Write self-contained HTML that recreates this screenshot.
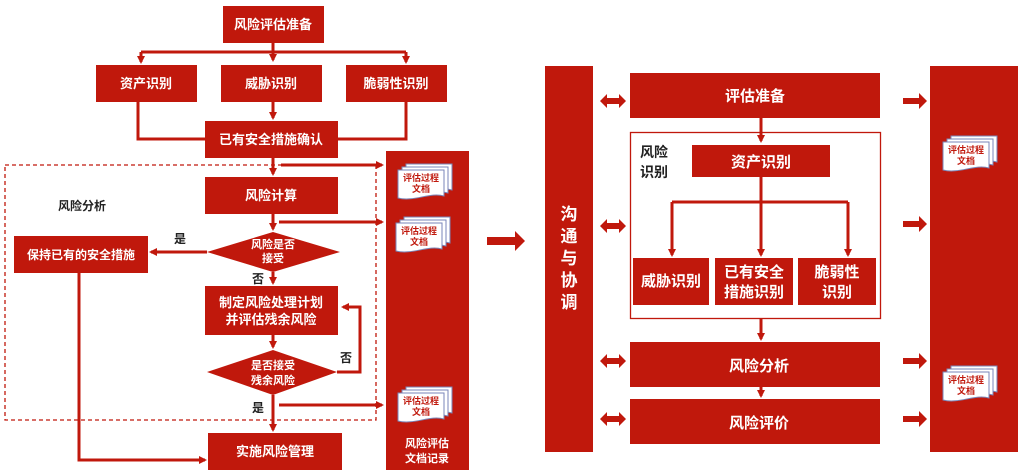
<!DOCTYPE html>
<html><head><meta charset="utf-8"><style>
html,body{margin:0;padding:0;background:#fff;}
svg{display:block;font-family:"Liberation Sans","Noto Sans CJK SC",sans-serif;}
.w{fill:#fff;font-weight:bold;text-anchor:middle;}
.k{fill:#222;font-weight:bold;text-anchor:middle;}
.d{fill:#c0180c;font-weight:bold;text-anchor:middle;font-size:9px;}
</style></head><body>
<svg width="1024" height="473" viewBox="0 0 1024 473">
<defs>
<marker id="a" markerWidth="8" markerHeight="8" refX="6" refY="4" orient="auto" markerUnits="userSpaceOnUse"><path d="M0,0L8,4L0,8z" fill="#c0180c"/></marker>
<g id="doc">
<path d="M8,0h46v26c-14,-4-30,6-46,2z" fill="#fff" stroke="#7a86b8" stroke-width="1"/>
<path d="M4,3h46v26c-14,-4-30,6-46,2z" fill="#fff" stroke="#7a86b8" stroke-width="1"/>
<path d="M0,6h46v26c-14,-4-30,6-46,2z" fill="#fff" stroke="#7a86b8" stroke-width="1"/>
<text x="23" y="17" class="d">评估过程</text><text x="23" y="28" class="d">文档</text>
</g>
</defs>
<g fill="#c0180c">
<!-- left diagram boxes -->
<rect x="223" y="6" width="101" height="37"/>
<rect x="96" y="65" width="101" height="37"/>
<rect x="221" y="65" width="101" height="37"/>
<rect x="346" y="65" width="101" height="37"/>
<rect x="205" y="121" width="133" height="37"/>
<rect x="205" y="177" width="133" height="37"/>
<polygon points="207,252 273,232 340,252 273,272"/>
<rect x="14" y="236" width="134" height="37"/>
<rect x="205" y="286" width="133" height="49"/>
<polygon points="207,372 273,350 337,372 273,395"/>
<rect x="208" y="433" width="134" height="37"/>
<rect x="386" y="151" width="83" height="319"/>
</g>
<g stroke="#c0180c" stroke-width="3" fill="none">
<path d="M273,43V60" marker-end="url(#a)"/>
<path d="M141,52H406"/>
<path d="M141,52V62" marker-end="url(#a)"/>
<path d="M406,52V62" marker-end="url(#a)"/>
<path d="M273,102V118" marker-end="url(#a)"/>
<path d="M138,102V139H205"/>
<path d="M406,102V139H338"/>
<path d="M273,158V174" marker-end="url(#a)"/>
<path d="M281,165H382" marker-end="url(#a)"/>
<path d="M273,214V229" marker-end="url(#a)"/>
<path d="M279,222H382" marker-end="url(#a)"/>
<path d="M207,252H151" marker-end="url(#a)"/>
<path d="M273,272V283" marker-end="url(#a)"/>
<path d="M273,335V347" marker-end="url(#a)"/>
<path d="M337,372H360V307H343" marker-end="url(#a)"/>
<path d="M273,395V430" marker-end="url(#a)"/>
<path d="M279,405H382" marker-end="url(#a)"/>
<path d="M79,273V460H205" marker-end="url(#a)"/>
</g>
<rect x="5" y="165" width="371" height="255" fill="none" stroke="#c0180c" stroke-width="1.3" stroke-dasharray="4,3"/>
<g font-size="13">
<text x="273" y="29" class="w">风险评估准备</text>
<text x="146" y="88" class="w">资产识别</text>
<text x="271" y="88" class="w">威胁识别</text>
<text x="396" y="88" class="w">脆弱性识别</text>
<text x="271" y="144" class="w">已有安全措施确认</text>
<text x="271" y="200" class="w">风险计算</text>
<text x="273" y="248" class="w" font-size="11">风险是否</text>
<text x="273" y="262" class="w" font-size="11">接受</text>
<text x="81" y="259" class="w" font-size="12">保持已有的安全措施</text>
<text x="271" y="307" class="w">制定风险处理计划</text>
<text x="271" y="324" class="w">并评估残余风险</text>
<text x="273" y="369" class="w" font-size="11">是否接受</text>
<text x="273" y="384" class="w" font-size="11">残余风险</text>
<text x="275" y="456" class="w">实施风险管理</text>
<text x="427" y="447" class="w" font-size="11">风险评估</text>
<text x="427" y="462" class="w" font-size="11">文档记录</text>
<text x="82" y="210" class="k" font-size="12">风险分析</text>
<text x="180" y="243" class="k" font-size="12">是</text>
<text x="258" y="283" class="k" font-size="12">否</text>
<text x="346" y="362" class="k" font-size="12">否</text>
<text x="258" y="412" class="k" font-size="12">是</text>
</g>
<use href="#doc" x="398" y="164"/>
<use href="#doc" x="396" y="217"/>
<use href="#doc" x="398" y="387"/>

<!-- middle arrow -->
<path d="M487,237h28v-6l10,10-10,10v-6h-28z" fill="#c0180c"/>

<!-- right diagram -->
<g fill="#c0180c">
<rect x="545" y="66" width="48" height="386"/>
<rect x="930" y="66" width="88" height="386"/>
<rect x="630" y="73" width="250" height="45"/>
<rect x="692" y="145" width="138" height="32"/>
<rect x="633" y="258" width="76" height="47"/>
<rect x="715" y="258" width="78" height="47"/>
<rect x="798" y="258" width="78" height="47"/>
<rect x="630" y="342" width="250" height="45"/>
<rect x="630" y="399" width="250" height="45"/>
</g>
<rect x="630.5" y="132.5" width="250" height="186" fill="none" stroke="#c0180c" stroke-width="1.3"/>
<g stroke="#c0180c" stroke-width="3" fill="none">
<path d="M761,118V141" marker-end="url(#a)"/>
<path d="M761,177V255" marker-end="url(#a)"/>
<path d="M672,202H848"/>
<path d="M672,202V255" marker-end="url(#a)"/>
<path d="M848,202V255" marker-end="url(#a)"/>
<path d="M761,318V339" marker-end="url(#a)"/>
<path d="M761,387V396" marker-end="url(#a)"/>
</g>
<g fill="#c0180c">
<path id="dbl" d="M600,101l7,-7v4h12v-4l7,7-7,7v-4h-12v4z"/>
<use href="#dbl" y="125"/>
<use href="#dbl" y="260"/>
<use href="#dbl" y="318"/>
<path id="ra" d="M903,98h16v-5l8,8-8,8v-5h-16z"/>
<use href="#ra" y="123"/>
<use href="#ra" y="260"/>
<use href="#ra" y="318"/>
</g>
<g font-size="15">
<text x="569" y="220" class="w" font-size="17">沟</text>
<text x="569" y="242" class="w" font-size="17">通</text>
<text x="569" y="264" class="w" font-size="17">与</text>
<text x="569" y="286" class="w" font-size="17">协</text>
<text x="569" y="308" class="w" font-size="17">调</text>
<text x="755" y="101" class="w">评估准备</text>
<text x="761" y="167" class="w">资产识别</text>
<text x="671" y="286" class="w">威胁识别</text>
<text x="754" y="277" class="w">已有安全</text>
<text x="754" y="297" class="w">措施识别</text>
<text x="837" y="277" class="w">脆弱性</text>
<text x="837" y="297" class="w">识别</text>
<text x="759" y="371" class="w">风险分析</text>
<text x="759" y="428" class="w">风险评价</text>
<text x="654" y="157" class="k" font-size="14">风险</text>
<text x="654" y="177" class="k" font-size="14">识别</text>
</g>
<use href="#doc" x="943" y="136"/>
<use href="#doc" x="943" y="366"/>
</svg>
</body></html>
